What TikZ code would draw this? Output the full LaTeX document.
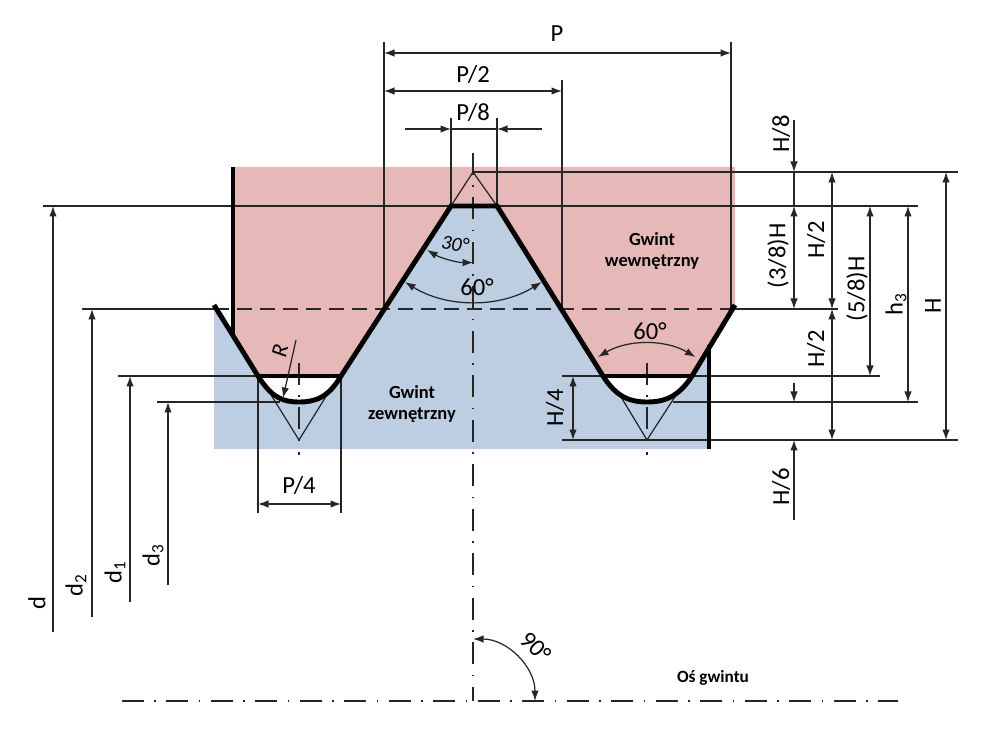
\documentclass[tikz,border=0pt]{standalone}
\usepackage{fontspec}
\setmainfont{Carlito}
\usetikzlibrary{arrows.meta}
\definecolor{gwintred}{HTML}{E6B8B7}
\definecolor{gwintblue}{HTML}{BDCDE2}
\tikzset{
  dim/.style={line width=0.7pt, black!85, {Latex[length=2.1mm,width=1.5mm]}-{Latex[length=2.1mm,width=1.5mm]}},
  dimto/.style={line width=0.7pt, black!85, -{Latex[length=2.1mm,width=1.5mm]}},
  hair/.style={line width=0.7pt, black!85},
  contour/.style={line width=2.8pt, black},
  axisline/.style={line width=0.8pt, black!85, dash pattern=on 4.4mm off 2.1mm on 0.3mm off 2.1mm},
  pitchline/.style={line width=0.7pt, black!85, dash pattern=on 3mm off 1.6mm},
  lab/.style={inner sep=0pt, font=\fontsize{14}{14}\selectfont},
  gwintlab/.style={inner sep=0pt, align=center, font=\fontsize{10.5}{12}\selectfont\bfseries},
}
\begin{document}
\begin{tikzpicture}[x=0.02cm, y=-0.02cm]
  \useasboundingbox (0, 0) rectangle (1000, 732);

  % fills
  \fill[gwintred] (233, 167) -- (735, 167) -- (735, 305) -- (692, 376) -- (603, 376) -- (497, 206) -- (451, 206) -- (341, 376) -- (258, 376) -- (233, 335) -- cycle;
  \fill[gwintblue] (214, 305) -- (258, 376) .. controls (272, 398) and (283, 402) .. (299, 402) .. controls (315, 402) and (328, 398) .. (341, 376) -- (451, 206) -- (497, 206) -- (603, 376) .. controls (617, 398) and (631, 402) .. (647, 402) .. controls (663, 402) and (678, 398) .. (692, 376) -- (710, 346) -- (710, 449) -- (214, 449) -- cycle;

  % horizontal witness lines
  \draw[hair] (473, 172) -- (958, 172);
  \draw[hair] (43, 206) -- (918, 206);
  \draw[hair] (82, 309) -- (214, 309);
  \draw[hair] (735, 309) -- (838, 309);
  \draw[pitchline] (214, 309) -- (735, 309);
  \draw[hair] (118, 376) -- (258, 376);
  \draw[hair] (562, 376) -- (880, 376);
  \draw[hair] (157, 402) -- (280, 402);
  \draw[hair] (673, 402) -- (918, 402);
  \draw[hair] (562, 440) -- (958, 440);

  % vertical witness lines
  \foreach \xa/\ya/\yb in {384/42/309, 731/42/309, 562/80/309, 451/118/206, 497/118/206, 258/376/513, 341/376/513} {
    \draw[hair] (\xa, \ya) -- (\xa, \yb);
  }

  % axes
  \draw[axisline] (473, 153) -- (473, 701);
  \draw[axisline] (122, 701) -- (898, 701);
  \draw[axisline] (299, 363) -- (299, 455);
  \draw[axisline] (647, 363) -- (647, 455);

  % construction triangles
  \draw[hair] (451, 206) -- (473, 172) -- (497, 206);
  \draw[hair] (268, 390) -- (299, 440) -- (330, 390);
  \draw[hair] (618, 392) -- (647, 440) -- (678, 392);

  % contour
  \draw[contour] (233, 167) -- (233, 335);
  \draw[contour] (214, 305) -- (258, 376) .. controls (272, 398) and (283, 402) .. (299, 402) .. controls (315, 402) and (328, 398) .. (341, 376) -- (451, 206) -- (497, 206) -- (603, 376) .. controls (617, 398) and (631, 402) .. (647, 402) .. controls (663, 402) and (678, 398) .. (692, 376) -- (735, 305);
  \draw[contour] (709, 345) -- (709, 449);
  \draw[contour] (258, 376) -- (341, 376);
  \draw[contour] (603, 376) -- (692, 376);

  % horizontal dimensions
  \draw[dim] (384, 53) -- (731, 53);
  \draw[dim] (384, 91) -- (562, 91);
  \draw[dimto] (405, 129) -- (451, 129);
  \draw[dimto] (542, 129) -- (497, 129);
  \draw[hair] (451, 129) -- (497, 129);
  \draw[dim] (258, 504) -- (341, 504);

  % vertical dimensions
  \foreach \xa/\ya/\yb in {794/206/309, 832/172/309, 832/309/440, 870/206/376, 908/206/402, 946/172/440, 573/376/440} {
    \draw[dim] (\xa, \ya) -- (\xa, \yb);
  }
  \draw[dimto] (794, 120) -- (794, 172);
  \draw[hair] (794, 172) -- (794, 206);
  \draw[dimto] (794, 383) -- (794, 402);
  \draw[dimto] (794, 520) -- (794, 440);
  \foreach \xa/\ya/\yb in {53/632/206, 92/617/309, 130/602/376, 168/585/402} {
    \draw[dimto] (\xa, \ya) -- (\xa, \yb);
  }

  % angles
  \draw[dim] (427, 250) arc[start angle=120.5, end angle=90, radius=91];
  \draw[dim] (405, 282) arc[start angle=122, end angle=58, radius=129];
  \draw[dim] (598, 357) arc[start angle=-120.5, end angle=-59.5, radius=96];
  \draw[dim] (473, 639) arc[start angle=-90, end angle=0, radius=62];
  \draw[dimto] (296, 340) -- (283, 398);

  % labels
  \node[lab] (lP) at (557, 34) {P};
  \node[lab] (lPtwo) at (473, 74) {P/2};
  \node[lab] (lPeight) at (473, 112) {P/8};
  \node[lab] (lPfour) at (299, 485) {P/4};
  \node[lab, rotate=90] (lHeight) at (781, 134) {H/8};
  \node[lab, rotate=90] (lTriEight) at (778, 256) {(3/8)H};
  \node[lab, rotate=90] (lHalfA) at (816, 240) {H/2};
  \node[lab, rotate=90] (lHalfB) at (816, 349) {H/2};
  \node[lab, rotate=90] (lFiveEight) at (857, 289) {(5/8)H};
  \node[lab, rotate=90] (lhthree) at (896, 304) {h\textsubscript{3}};
  \node[lab, rotate=90] (lH) at (933, 306) {H};
  \node[lab, rotate=90] (lHsix) at (781, 487) {H/6};
  \node[lab, rotate=90] (lHfour) at (555, 408) {H/4};
  \node[lab, rotate=90] (ld) at (37, 603) {d};
  \node[lab, rotate=90] (ldtwo) at (76, 585) {d\textsubscript{2}};
  \node[lab, rotate=90] (ldone) at (115, 572) {d\textsubscript{1}};
  \node[lab, rotate=90] (ldthree) at (153, 555) {d\textsubscript{3}};
  \node[lab] (lsixtyA) at (477, 287) {60°};
  \node[lab] (lsixtyB) at (650, 331) {60°};
  \node[lab, rotate=-8, font=\fontsize{11.5}{11.5}\selectfont\itshape] (lthirty) at (455, 244) {30°};
  \node[lab, rotate=-45] (lninety) at (536, 647) {90°};
  \node[lab, rotate=78, font=\fontsize{13}{13}\selectfont\itshape] (lR) at (280, 351) {R};
  \node[gwintlab] (lzew) at (412, 404) {Gwint\\zewnętrzny};
  \node[gwintlab] (lwew) at (652, 251) {Gwint\\wewnętrzny};
  \node[gwintlab, font=\fontsize{9.8}{12}\selectfont\bfseries] (los) at (713, 678) {Oś gwintu};
\end{tikzpicture}
\end{document}
